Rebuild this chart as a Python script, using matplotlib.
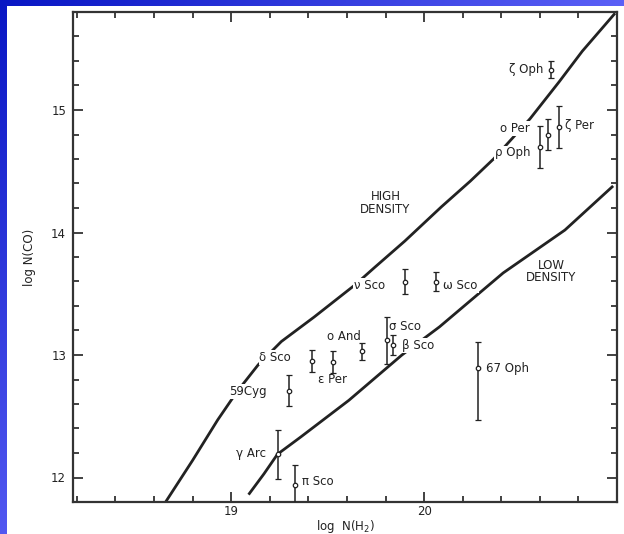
import numpy as np
import matplotlib
matplotlib.use("Agg")
import matplotlib.pyplot as plt
from matplotlib.patches import Rectangle
from matplotlib.ticker import MultipleLocator, FixedLocator

# Model curves: log N(CO) versus log N(H2)
high_x = [18.66, 18.80, 18.93, 19.03, 19.14, 19.26, 19.43, 19.64, 19.74,
          19.90, 20.09, 20.24, 20.36, 20.55, 20.70, 20.82, 20.99]
high_y = [11.80, 12.14, 12.47, 12.70, 12.92, 13.11, 13.31, 13.57, 13.71,
          13.93, 14.21, 14.42, 14.60, 14.93, 15.23, 15.48, 15.79]

low_x = [19.09, 19.17, 19.24, 19.36, 19.61, 19.885, 20.08, 20.41, 20.73, 20.98]
low_y = [11.86, 12.03, 12.19, 12.33, 12.63, 13.00, 13.23, 13.67, 14.02, 14.38]

# Observed sight lines
stars = ["ζ Oph", "ζ Per", "o Per", "ρ Oph", "ν Sco", "ω Sco", "σ Sco",
         "β Sco", "o And", "δ Sco", "ε Per", "59Cyg", "γ Arc", "π Sco", "67 Oph"]
log_nh2 = [20.66, 20.70, 20.64, 20.60, 19.90, 20.06, 19.81,
           19.84, 19.68, 19.42, 19.53, 19.30, 19.245, 19.33, 20.28]
log_nco = [15.33, 14.86, 14.80, 14.70, 13.60, 13.60, 13.12,
           13.08, 13.03, 12.95, 12.94, 12.71, 12.19, 11.94, 12.89]
err_lo = [0.07, 0.17, 0.13, 0.17, 0.10, 0.08, 0.19,
          0.08, 0.07, 0.09, 0.09, 0.13, 0.20, 0.16, 0.42]
err_hi = [0.07, 0.17, 0.13, 0.17, 0.10, 0.08, 0.19,
          0.08, 0.07, 0.09, 0.09, 0.13, 0.20, 0.16, 0.22]

# Label anchor (x, y, horizontal alignment) for each star
label_x = [20.62, 20.73, 20.55, 20.55, 19.635, 20.10, 19.82,
           19.885, 19.495, 19.146, 19.45, 18.99, 19.18, 19.365, 20.32]
label_y = [15.33, 14.87, 14.85, 14.65, 13.57, 13.57, 13.23,
           13.08, 13.15, 12.98, 12.80, 12.70, 12.20, 11.97, 12.89]
label_ha = ["right", "left", "right", "right", "left", "left", "left",
            "left", "left", "left", "left", "left", "right", "left", "left"]

W, H = 624, 534
fig = plt.figure(figsize=(W / 100, H / 100), dpi=100)

# Blue frame behind the white panel
bg = fig.add_axes([0, 0, 1, 1])
bg.set_axis_off()
u = np.linspace(0, 1, 200)[None, :]
v = np.linspace(0, 1, 200)[:, None]
t = np.clip(0.9 * u + 0.8 * v, 0, 1)
dark = np.array([8, 22, 196]) / 255
light = np.array([100, 104, 252]) / 255
grad = dark[None, None, :] + (light - dark)[None, None, :] * t[..., None]
bg.imshow(grad, extent=[0, 1, 0, 1], aspect="auto", origin="upper")
bg.add_patch(Rectangle((7 / W, 0), 1, 1 - 6 / H, facecolor="white",
                       edgecolor="none", transform=bg.transAxes))
bg.set_xlim(0, 1)
bg.set_ylim(0, 1)

ax = fig.add_axes([73 / W, 1 - 502 / H, (617 - 73) / W, (502 - 12) / H])
ax.set_facecolor("none")
ax.set_xlim(18.18, 21.0)
ax.set_ylim(11.8, 15.8)

ink = "#222222"
ax.plot(high_x, high_y, color=ink, lw=2.0, zorder=2, solid_capstyle="butt")
ax.plot(low_x, low_y, color=ink, lw=2.0, zorder=2, solid_capstyle="butt")

ax.errorbar(log_nh2, log_nco, yerr=[err_lo, err_hi], fmt="o", ms=3.2,
            mfc="white", mec=ink, mew=0.9, ecolor=ink, elinewidth=1.1,
            capsize=2.5, capthick=1.1, zorder=4)

for name, lx, ly, ha in zip(stars, label_x, label_y, label_ha):
    ax.text(lx, ly, name, fontsize=8.5, ha=ha, va="center", color=ink,
            zorder=3, bbox=dict(facecolor="white", edgecolor="none", pad=0.6))

ax.text(19.80, 14.24, "HIGH\nDENSITY", fontsize=8.5, ha="center", va="center",
        color=ink, linespacing=0.95, zorder=3)
ax.text(20.66, 13.68, "LOW\nDENSITY", fontsize=8.5, ha="center", va="center",
        color=ink, linespacing=0.95, zorder=3)

for s in ax.spines.values():
    s.set_color("#333333")
    s.set_linewidth(1.6)

ax.xaxis.set_major_locator(FixedLocator([19, 20]))
ax.xaxis.set_minor_locator(MultipleLocator(0.2))
ax.yaxis.set_major_locator(FixedLocator([12, 13, 14, 15]))
ax.yaxis.set_minor_locator(MultipleLocator(0.2))
ax.set_xticklabels(["19", "20"])
ax.set_yticklabels(["12", "13", "14", "15"])
ax.tick_params(which="both", direction="in", top=True, right=True,
               color="#333333", width=1.3, labelsize=8.5, labelcolor=ink)
ax.tick_params(which="major", length=7)
ax.tick_params(axis="x", which="major", pad=2)
ax.tick_params(axis="y", which="major", pad=5)
ax.tick_params(which="minor", length=4.5)

ax.set_xlabel("log  N(H$_2$)", fontsize=8.5, color=ink, labelpad=0)
ax.set_ylabel("log N(CO)", fontsize=8.5, color=ink, labelpad=11)

fig.savefig("out.png", dpi=100)
